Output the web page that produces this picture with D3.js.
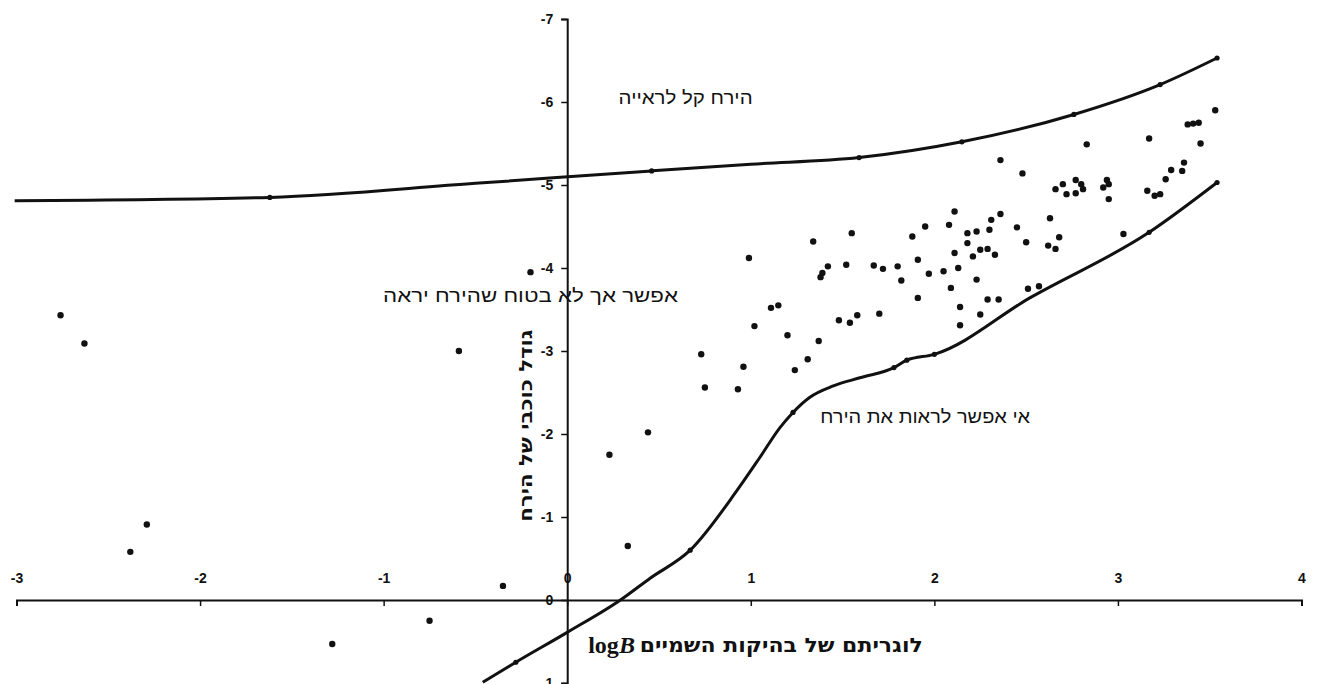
<!DOCTYPE html>
<html>
<head>
<meta charset="utf-8">
<script src="https://cdn.jsdelivr.net/npm/d3@7"></script>
<style>
  html, body { margin: 0; padding: 0; background: #fff; }
  svg { display: block; }
  .tick text { font-family: "Liberation Sans", Arial, sans-serif; font-size: 14px; font-weight: bold; fill: #111; }
</style>
</head>
<body>
<svg id="chart" width="1317" height="684"></svg>
<script>
// Axis ticks
const xTicks = [-3, -2, -1, 0, 1, 2, 3, 4];
const yTicks = [1, 0, -1, -2, -3, -4, -5, -6, -7];

// Observations: log of sky brightness (x) vs. lunar magnitude (y)
const scatterX = [
  -2.76, -2.63, -2.29, -2.38, -1.28, -0.75, -0.35, -0.20, -0.59, 0.23, 0.44, 0.33,
  1.34, 0.99, 1.42, 1.39, 1.38, 1.11, 1.15, 1.48, 1.02, 1.20, 1.37, 0.73, 0.96, 1.31, 1.24, 0.75, 0.93,
  2.11, 2.36, 2.31, 1.95, 2.08, 2.45, 1.55, 1.88, 2.18, 2.23, 2.30, 2.18, 2.50, 2.25, 2.29, 2.11, 2.21, 2.33, 1.91,
  1.52, 1.67, 1.72, 1.80, 2.05, 2.13, 1.97, 1.82, 2.23, 2.09, 2.51, 1.91, 2.29, 2.35, 2.14, 2.25, 2.14, 1.54, 1.58, 1.70,
  3.53, 3.38, 3.41, 3.44, 3.17, 2.83, 3.45, 2.48, 2.36, 3.36, 3.29, 3.35, 3.26, 2.66, 2.70, 2.72, 2.77,
  2.77, 2.80, 2.81, 2.92, 2.94, 2.95, 2.95, 3.16, 3.20, 3.23, 2.63, 2.68, 2.62, 2.66, 3.03, 2.57
];
const scatterY = [
  -3.43, -3.09, -0.91, -0.58, 0.53, 0.25, -0.17, -3.95, -3.00, -1.75, -2.02, -0.65,
  -4.32, -4.12, -4.02, -3.94, -3.89, -3.52, -3.55, -3.37, -3.30, -3.19, -3.12, -2.96, -2.81, -2.90, -2.77, -2.56, -2.54,
  -4.68, -4.65, -4.58, -4.50, -4.52, -4.49, -4.42, -4.38, -4.42, -4.44, -4.46, -4.30, -4.31, -4.22, -4.23, -4.18, -4.14, -4.16, -4.10,
  -4.04, -4.03, -3.99, -4.02, -3.96, -4.00, -3.93, -3.85, -3.86, -3.76, -3.75, -3.64, -3.62, -3.62, -3.53, -3.44, -3.31, -3.34, -3.43, -3.45,
  -5.90, -5.73, -5.74, -5.75, -5.56, -5.49, -5.50, -5.14, -5.30, -5.27, -5.18, -5.17, -5.07, -4.95, -5.01, -4.89, -4.90,
  -5.06, -5.01, -4.95, -4.97, -5.06, -5.01, -4.83, -4.93, -4.87, -4.89, -4.60, -4.37, -4.27, -4.23, -4.41, -3.78
];

// Upper boundary: above it the moon is easy to see
const upperX = [-3.01, -1.62, -0.50, 0.46, 1.00, 1.59, 2.15, 2.76, 3.23, 3.54];
const upperY = [-4.81, -4.85, -5.02, -5.17, -5.25, -5.33, -5.52, -5.85, -6.21, -6.53];
const upperMarked = [false, true, false, true, false, true, true, true, true, true];

// Lower boundary: below it the moon cannot be seen
const lowerX = [-0.46, -0.28, 0, 0.29, 0.45, 0.67, 0.925, 1.05, 1.16, 1.23, 1.32, 1.45, 1.60, 1.78, 1.85, 2.00, 2.52, 3.17, 3.54];
const lowerY = [0.99, 0.75, 0.39, 0, -0.26, -0.60, -1.32, -1.72, -2.08, -2.26, -2.44, -2.58, -2.68, -2.80, -2.89, -2.96, -3.64, -4.43, -5.03];
const lowerMarked = [false, true, false, false, false, true, false, false, false, true, false, false, false, true, true, true, false, true, true];

// Region labels
const regionText = ["הירח קל לראייה", "אפשר אך לא בטוח שהירח יראה", "אי אפשר לראות את הירח"];
const regionX = [0.645, -0.20, 1.95];
const regionY = [-6.05, -3.66, -2.2];
const regionWidth = [134, 295, 210];

const yTitle = "גודל כוכבי של הירח";
const xTitle = "לוגריתם של בהיקות השמיים";

const svg = d3.select("#chart");
const x = d3.scaleLinear().domain([-3, 4]).range([16.5, 1301.5]);
const y = d3.scaleLinear().domain([1, -7]).range([683, 19]);

const fontHeb = '"Liberation Sans", Arial, "DejaVu Sans", sans-serif';
const fontHebBold = '"DejaVu Sans", "Liberation Sans", Arial, sans-serif';

// X axis along y = 0, labels lifted above the line
const gx = svg.append("g")
  .attr("transform", `translate(0,${y(0)})`)
  .call(d3.axisBottom(x).tickValues(xTicks).tickSize(6).tickSizeOuter(6).tickFormat(d => String(d)));
gx.select(".domain").attr("stroke", "#111").attr("stroke-width", 2);
gx.selectAll(".tick line").attr("stroke", "#111").attr("stroke-width", 1.5);
gx.selectAll(".tick text").attr("y", -17).attr("dy", 0);

// Y axis along x = 0
const gy = svg.append("g")
  .attr("transform", `translate(${x(0)},0)`)
  .call(d3.axisLeft(y).tickValues(yTicks).tickSize(6).tickSizeOuter(6).tickFormat(d => String(d)));
gy.select(".domain").attr("stroke", "#111").attr("stroke-width", 2);
gy.selectAll(".tick line").attr("stroke", "#111").attr("stroke-width", 1.5);
gy.selectAll(".tick text").attr("x", -14);

// Boundary curves
const line = d3.line()
  .x(d => x(d[0]))
  .y(d => y(d[1]))
  .curve(d3.curveMonotoneX);

const upper = upperX.map((v, i) => [v, upperY[i], upperMarked[i]]);
const lower = lowerX.map((v, i) => [v, lowerY[i], lowerMarked[i]]);

[upper, lower].forEach(series => {
  svg.append("path")
    .datum(series)
    .attr("d", line)
    .attr("fill", "none")
    .attr("stroke", "#111")
    .attr("stroke-width", 3)
    .attr("stroke-linejoin", "round");
  svg.append("g").selectAll("circle")
    .data(series.filter(d => d[2]))
    .join("circle")
    .attr("cx", d => x(d[0]))
    .attr("cy", d => y(d[1]))
    .attr("r", 2.6)
    .attr("fill", "#111");
});

// Observed points
svg.append("g").selectAll("circle")
  .data(scatterX.map((v, i) => [v, scatterY[i]]))
  .join("circle")
  .attr("cx", d => x(d[0]))
  .attr("cy", d => y(d[1]))
  .attr("r", 3.2)
  .attr("fill", "#111");

// Region labels
svg.append("g").selectAll("text")
  .data(regionText)
  .join("text")
  .attr("x", (d, i) => x(regionX[i]))
  .attr("y", (d, i) => y(regionY[i]))
  .attr("text-anchor", "middle")
  .attr("dominant-baseline", "central")
  .attr("font-family", fontHeb)
  .attr("font-size", 18)
  .attr("textLength", (d, i) => regionWidth[i])
  .attr("lengthAdjust", "spacingAndGlyphs")
  .attr("fill", "#111")
  .text(d => d);

// Y axis title, rotated
svg.append("text")
  .attr("transform", `translate(${x(0) - 42},${y(-2.1)}) rotate(-90)`)
  .attr("text-anchor", "middle")
  .attr("dominant-baseline", "central")
  .attr("font-family", fontHebBold)
  .attr("font-size", 18)
  .attr("font-weight", "bold")
  .attr("textLength", 192)
  .attr("lengthAdjust", "spacingAndGlyphs")
  .attr("fill", "#111")
  .text(yTitle);

// X axis title: "logB" followed by the Hebrew caption
const tx = svg.append("text")
  .attr("x", x(0) + 21)
  .attr("y", y(0.54))
  .attr("dominant-baseline", "central")
  .attr("font-family", '"Liberation Serif", "Times New Roman", serif')
  .attr("font-size", 24)
  .attr("font-weight", "bold")
  .attr("fill", "#111");
tx.append("tspan").text("log");
tx.append("tspan").attr("font-style", "italic").text("B");

svg.append("text")
  .attr("x", x(0) + 214)
  .attr("y", y(0.54))
  .attr("text-anchor", "middle")
  .attr("dominant-baseline", "central")
  .attr("font-family", fontHebBold)
  .attr("font-size", 20)
  .attr("font-weight", "bold")
  .attr("textLength", 283)
  .attr("lengthAdjust", "spacingAndGlyphs")
  .attr("fill", "#111")
  .text(xTitle);
</script>
</body>
</html>
